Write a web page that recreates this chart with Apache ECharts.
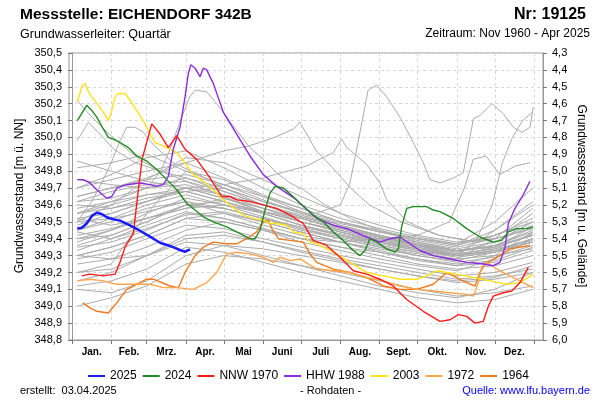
<!DOCTYPE html>
<html><head><meta charset="utf-8">
<script src="https://cdn.jsdelivr.net/npm/echarts@6/dist/echarts.min.js"></script>
<style>html,body{margin:0;padding:0;background:#fff}#c{width:600px;height:400px}</style>
</head><body><div id="c"></div>
<script>
// ---- Data (day of year, groundwater level m ü. NN) ----
const monthNames = ['Jan.','Feb.','Mrz.','Apr.','Mai','Juni','Juli','Aug.','Sept.','Okt.','Nov.','Dez.'];
const monthStarts = [0,31,59,90,120,151,181,212,243,273,304,334,365];
const monthMids = [15.5,45,74.5,105,135.5,166,196.5,227.5,258,288.5,319,349.5];
const leftTicks = {min:348.8, max:350.5, step:0.1};
const rightTicks = {min:4.3, max:6.0, step:0.1};

const y2025 = [[4.2,349.46],[7.7,349.465],[11.6,349.49],[15.6,349.534],[19.5,349.554],[23.5,349.546],[27.4,349.527],[32.6,349.515],[37.9,349.507],[45.8,349.479],[53.7,349.447],[61.6,349.412],[69.5,349.376],[77.4,349.357],[85.3,349.333],[89.3,349.323],[93.2,349.337]];
const y2024 = [[4.2,350.10],[11.6,350.19],[15.6,350.16],[19.5,350.12],[24.7,350.05],[28.7,350.00],[32.6,349.99],[37.9,349.97],[44.5,349.94],[51.1,349.89],[59,349.86],[66.9,349.81],[74.8,349.75],[82.7,349.69],[90.6,349.61],[103.7,349.53],[111.6,349.50],[122.2,349.47],[132.7,349.43],[140.6,349.40],[144.6,349.40],[148.5,349.45],[152.5,349.57],[156.4,349.67],[160.4,349.71],[166.9,349.70],[174.6,349.65],[180.1,349.61],[190.6,349.54],[198.5,349.50],[206.4,349.44],[214.3,349.39],[222.2,349.33],[227.5,349.30],[231.5,349.33],[235.4,349.40],[240.7,349.38],[248.6,349.34],[255.2,349.32],[257.8,349.34],[260.4,349.47],[264.4,349.58],[269.6,349.59],[280.2,349.59],[285.4,349.57],[290.7,349.56],[301.2,349.52],[311.8,349.46],[322.3,349.41],[332.8,349.38],[339.5,349.39],[344.7,349.44],[351.3,349.46],[359.2,349.46],[364.4,349.47]];
const nnw1970 = [[7.7,349.18],[14.2,349.19],[24.7,349.18],[34,349.19],[37.9,349.26],[41.9,349.35],[48.4,349.43],[52.4,349.69],[55.3,349.87],[63,350.08],[69.5,350.02],[76.1,349.94],[82.7,350.01],[89.3,349.93],[98.5,349.87],[109,349.76],[118.3,349.65],[124.8,349.65],[130.1,349.63],[140.6,349.62],[151.1,349.60],[161.7,349.58],[172.2,349.54],[182.7,349.49],[190.6,349.39],[201.2,349.36],[211.7,349.29],[222.2,349.21],[232.8,349.19],[243.3,349.16],[253.8,349.12],[264.4,349.04],[277.5,348.97],[290.7,348.91],[298.6,348.92],[305.2,348.95],[311.8,348.94],[318.4,348.90],[324.9,348.91],[328.9,349.00],[332.8,349.06],[340.7,349.08],[347.4,349.09],[354,349.14],[360.5,349.23]];
const hhw1988 = [[4.2,349.75],[8.9,349.75],[14.2,349.73],[19.5,349.69],[27.4,349.64],[31.4,349.65],[35.3,349.70],[43.2,349.72],[53.7,349.73],[61.6,349.72],[66.9,349.71],[72.1,349.72],[76.1,349.77],[80,349.93],[85.3,350.06],[89.3,350.24],[91.9,350.38],[93.8,350.43],[97.2,350.41],[101.1,350.36],[103.7,350.41],[106.4,350.40],[111.6,350.32],[119.5,350.15],[130.1,350.02],[140.6,349.89],[151.1,349.78],[161.7,349.71],[169.6,349.67],[177.5,349.63],[180.1,349.61],[193.3,349.52],[206.4,349.48],[217,349.46],[232.8,349.41],[243.3,349.38],[251.2,349.40],[259.1,349.41],[267,349.37],[274.9,349.33],[285.4,349.30],[298.6,349.28],[311.8,349.26],[324.9,349.25],[332.8,349.24],[338.1,349.26],[342.1,349.35],[344.7,349.49],[350,349.58],[356.5,349.66],[361.8,349.74]];
const y2003 = [[4.2,350.21],[7.7,350.30],[10.3,350.32],[12.9,350.27],[16.8,350.23],[20.8,350.19],[24.7,350.15],[28.7,350.10],[31.4,350.16],[34,350.24],[36.6,350.26],[41.9,350.26],[45.8,350.22],[51.1,350.16],[56.3,350.10],[61.6,350.02],[65.6,349.97],[74.8,349.94],[82.7,349.91],[89.3,349.85],[95.8,349.78],[103.7,349.74],[111.6,349.69],[116.9,349.65],[124.8,349.60],[135.3,349.54],[143.2,349.52],[151.1,349.51],[156.4,349.49],[161.7,349.49],[169.6,349.48],[174.8,349.44],[182.7,349.43],[188,349.38],[193.3,349.37],[206.4,349.32],[219.6,349.26],[232.8,349.20],[245.9,349.18],[259.1,349.16],[272.3,349.16],[280.2,349.18],[288.1,349.21],[296,349.20],[303.9,349.19],[317.1,349.17],[330.2,349.15],[343.4,349.13],[354,349.14],[364.4,349.19]];
const y1972 = [[4.2,349.15],[14.2,349.16],[24.7,349.15],[35.3,349.13],[51.1,349.13],[61.6,349.13],[72.1,349.11],[82.7,349.11],[95.8,349.10],[106.4,349.14],[114.3,349.20],[122.2,349.31],[130.1,349.32],[140.6,349.31],[151.1,349.29],[159,349.26],[164.3,349.29],[172.2,349.27],[180.1,349.28],[193.3,349.22],[206.4,349.21],[219.6,349.20],[232.8,349.17],[245.9,349.15],[259.1,349.12],[272.3,349.10],[285.4,349.09],[298.6,349.08],[311.8,349.07],[317.1,349.06],[321,349.14],[323.7,349.23],[327.6,349.26],[338.1,349.21],[348.7,349.17],[359.2,349.13],[364.4,349.11]];
const y1964 = [[8.5,349.02],[14.2,348.99],[19.5,348.97],[28.7,348.96],[35.3,349.02],[43.2,349.10],[51.1,349.13],[59,349.16],[64.2,349.16],[77.4,349.12],[84,349.11],[89.3,349.20],[97.2,349.30],[103.7,349.35],[111.6,349.38],[122.2,349.37],[130.1,349.37],[138,349.40],[145.9,349.44],[151.1,349.50],[155.1,349.51],[157.8,349.46],[163,349.40],[172.2,349.39],[182.7,349.38],[188,349.31],[193.3,349.26],[206.4,349.22],[219.6,349.20],[232.8,349.17],[245.9,349.12],[259.1,349.10],[272.3,349.10],[285.4,349.13],[296,349.20],[303.9,349.17],[311.8,349.14],[318.4,349.12],[322.3,349.20],[326.3,349.25],[335.5,349.29],[346,349.34],[361.8,349.36]];

// other years (grey), monthly readings
const grayDays = [4,31,59,90,120,151,181,212,243,273,304,334,364];
const grayLines = [
 [349.45,349.50,349.58,349.62,349.55,349.48,349.42,349.38,349.33,349.28,349.25,349.27,349.35],
 [349.55,349.60,349.66,349.70,349.64,349.56,349.50,349.45,349.40,349.36,349.33,349.35,349.42],
 [349.35,349.38,349.45,349.55,349.52,349.46,349.40,349.35,349.30,349.25,349.22,349.24,349.30],
 [349.62,349.68,349.72,349.74,349.68,349.60,349.54,349.47,349.42,349.38,349.34,349.38,349.48],
 [349.28,349.32,349.40,349.48,349.46,349.40,349.35,349.30,349.26,349.22,349.18,349.20,349.26],
 [349.48,349.55,349.62,349.68,349.70,349.62,349.55,349.48,349.42,349.37,349.32,349.36,349.45],
 [349.40,349.42,349.50,349.60,349.58,349.52,349.45,349.40,349.35,349.30,349.27,349.32,349.40],
 [349.75,349.72,349.70,349.72,349.66,349.58,349.52,349.46,349.41,349.36,349.32,349.38,349.50],
 [349.20,349.22,349.30,349.42,349.44,349.38,349.33,349.28,349.24,349.20,349.16,349.18,349.22],
 [349.58,349.62,349.66,349.68,349.62,349.55,349.48,349.43,349.38,349.34,349.30,349.45,349.62],
 [349.52,349.48,349.52,349.58,349.60,349.56,349.50,349.44,349.38,349.33,349.29,349.32,349.38],
 [349.10,349.08,349.15,349.30,349.36,349.34,349.30,349.26,349.22,349.18,349.14,349.16,349.20],
 [349.45,349.52,349.60,349.66,349.60,349.53,349.46,349.40,349.35,349.31,349.28,349.40,349.58],
 [349.65,349.70,349.75,349.78,349.72,349.63,349.55,349.49,349.44,349.39,349.35,349.40,349.46],
 [349.30,349.35,349.42,349.52,349.55,349.50,349.44,349.38,349.32,349.27,349.24,349.26,349.33],
 [349.38,349.45,349.55,349.64,349.60,349.55,349.48,349.42,349.37,349.33,349.30,349.33,349.40],
 [349.00,349.05,349.12,349.25,349.30,349.28,349.24,349.20,349.15,349.10,349.06,349.08,349.12],
 [349.50,349.52,349.56,349.62,349.58,349.52,349.47,349.42,349.36,349.32,349.28,349.30,349.34],
 [349.70,349.75,349.80,349.85,349.76,349.66,349.58,349.50,349.45,349.40,349.36,349.42,349.52],
 [349.33,349.40,349.48,349.56,349.52,349.46,349.40,349.35,349.32,349.28,349.24,349.30,349.44],
 [349.42,349.46,349.52,349.58,349.64,349.58,349.50,349.44,349.39,349.35,349.31,349.34,349.39],
 [349.60,349.58,349.62,349.70,349.66,349.60,349.53,349.47,349.41,349.37,349.33,349.36,349.44],
 [349.25,349.28,349.35,349.45,349.50,349.45,349.38,349.33,349.28,349.24,349.21,349.28,349.40],
 [349.86,349.80,349.74,349.70,349.64,349.58,349.52,349.46,349.41,349.37,349.33,349.36,349.42],
 [349.15,349.20,349.30,349.40,349.42,349.38,349.32,349.27,349.22,349.18,349.15,349.17,349.24],
 [349.55,349.62,349.70,349.76,349.70,349.62,349.56,349.50,349.44,349.40,349.37,349.50,349.70],
 [349.44,349.40,349.46,349.54,349.56,349.50,349.44,349.38,349.34,349.30,349.26,349.29,349.36],
 [349.36,349.42,349.50,349.60,349.62,349.55,349.48,349.42,349.38,349.34,349.30,349.35,349.47],
 [349.70,349.78,349.88,349.92,349.82,349.70,349.60,349.52,349.46,349.41,349.37,349.42,349.50],
 [349.50,349.60,349.75,349.88,349.85,349.75,349.65,349.55,349.48,349.42,349.38,349.40,349.46],
 [349.82,349.85,349.90,349.80,349.72,349.65,349.58,349.50,349.44,349.40,349.36,349.45,349.60],
 [349.20,349.25,349.55,349.80,349.75,349.65,349.56,349.48,349.42,349.36,349.30,349.33,349.38],
 [349.12,349.15,349.22,349.35,349.32,349.26,349.20,349.15,349.10,349.05,349.02,349.04,349.10],
 [349.30,349.28,349.30,349.38,349.36,349.30,349.24,349.18,349.12,349.08,349.05,349.10,349.20]
];
// grey years with distinctive peaks (day, level)
const grayPeakAug = [[4,349.55],[31,349.58],[59,349.64],[90,349.68],[120,349.62],[151,349.56],[181,349.52],[212,349.6],[219.6,349.73],[227.5,350.03],[233.9,350.28],[240.8,350.31],[248.6,350.24],[259.1,350.12],[269.6,349.97],[277.5,349.85],[282.8,349.75],[290.7,349.73],[301.2,349.76],[309.1,349.79],[317.1,350.11],[322.3,350.13],[331.8,350.20],[340.7,350.14],[348.7,350.06],[355.6,350.03],[361.8,350.06],[364.4,350.18]];
const grayPeakApr = [[4,349.62],[31,349.64],[59,349.7],[70,349.8],[77.4,349.93],[86.7,350.12],[93,350.24],[97.2,350.28],[106.4,350.27],[114.3,350.2],[122.2,350.12],[130.1,350.04],[140.6,349.94],[151.1,349.87],[161.7,349.79],[172.2,349.73],[182.7,349.69],[200,349.6],[220,349.52],[243,349.45],[273,349.38],[304,349.33],[334,349.35],[364,349.42]];
const grayPeakFeb = [[4,349.5],[15.6,349.62],[24.7,349.75],[31,349.85],[37.9,349.98],[43.2,350.06],[50,350.06],[56.3,350.03],[65,349.95],[80,349.85],[100,349.78],[120,349.7],[151,349.6],[181,349.52],[212,349.45],[243,349.4],[273,349.35],[304,349.3],[334,349.33],[364,349.4]];
const grayHighJan = [[4,350.22],[12,350.15],[25,350.05],[40,349.95],[55,349.86],[70,349.8],[90,349.74],[110,349.68],[130,349.62],[151,349.56],[181,349.5],[212,349.44],[243,349.39],[273,349.34],[304,349.3],[334,349.32],[364,349.38]];
const grayHighJan2 = [[4,349.98],[13,350.09],[22,350.02],[33,349.93],[50,349.85],[70,349.8],[90,349.76],[120,349.68],[151,349.6],[181,349.53],[212,349.47],[243,349.41],[273,349.36],[304,349.31],[334,349.34],[364,349.43]];
const grayRiseDec = [[4,349.4],[31,349.45],[59,349.52],[90,349.6],[120,349.58],[151,349.52],[181,349.46],[212,349.41],[243,349.36],[273,349.32],[304,349.3],[320,349.4],[332,349.6],[340,349.85],[348,350.0],[356,350.1],[364,350.15]];
const grayHumpNov = [[4,349.3],[31,349.35],[59,349.42],[90,349.52],[120,349.5],[151,349.45],[181,349.4],[212,349.38],[243,349.4],[273,349.42],[298,349.5],[310,349.7],[317,349.87],[327,349.89],[338,349.78],[350,349.83],[362,349.85]];
const grayHighJul = [[4,349.65],[31,349.7],[59,349.76],[90,349.85],[120,349.92],[140,349.95],[160,350.0],[175,350.05],[180,350.09],[193,349.92],[206,349.82],[220,349.7],[235,349.6],[260,349.5],[290,349.42],[320,349.38],[345,349.42],[364,349.5]];
const grayHumpAug = [[4,349.52],[31,349.55],[59,349.62],[90,349.7],[120,349.72],[151,349.76],[170,349.8],[185,349.83],[201,349.89],[206.4,349.91],[213,349.99],[217,349.94],[222,349.91],[232.8,349.84],[243.3,349.73],[248.6,349.63],[265,349.5],[290,349.42],[320,349.38],[345,349.45],[364,349.55]];

// ---- Build chart ----
const fmt = v => (Math.round(v*10)/10).toFixed(1).replace('.', ',');
const series = [];
const grayStyle = {color:'#ababab', width:1};
grayLines.forEach(vals => series.push({type:'line', data: vals.map((v,i)=>[grayDays[i], v]), showSymbol:false, symbol:'none', silent:true, lineStyle:grayStyle, z:1}));
[grayPeakAug, grayPeakApr, grayPeakFeb, grayHighJan, grayHighJan2, grayRiseDec, grayHumpNov, grayHighJul, grayHumpAug]
  .forEach(d => series.push({type:'line', data:d, showSymbol:false, symbol:'none', silent:true, lineStyle:grayStyle, z:1}));

const highlights = [
  {name:'1964', data:y1964, color:'#f07a1e', w:1.4},
  {name:'1972', data:y1972, color:'#ffa54a', w:1.4},
  {name:'2003', data:y2003, color:'#ffe21a', w:1.4},
  {name:'HHW 1988', data:hhw1988, color:'#8a2be2', w:1.4},
  {name:'NNW 1970', data:nnw1970, color:'#ff1a1a', w:1.4},
  {name:'2024', data:y2024, color:'#228b22', w:1.4},
  {name:'2025', data:y2025, color:'#1a1aff', w:2.5}
];
highlights.forEach((h,i) => series.push({name:h.name, type:'line', data:h.data, showSymbol:false, symbol:'none', silent:true, color:h.color, lineStyle:{color:h.color, width:h.w}, z:5+i}));

const chart = echarts.init(document.getElementById('c'), null, {renderer:'canvas'});
const font = 'Liberation Sans, Arial, sans-serif';
chart.setOption({
  animation:false,
  textStyle:{fontFamily:font},
  grid:{left:69, right:57, top:53, bottom:60, show:true, borderColor:'#999', borderWidth:1, backgroundColor:'transparent'},
  xAxis:{type:'value', min:-2.4, max:372.1,
    axisLine:{show:true, lineStyle:{color:'#999'}},
    axisTick:{show:true, customValues:monthStarts, length:4, lineStyle:{color:'#777'}},
    axisLabel:{customValues:monthMids, formatter:v=>monthNames[monthMids.indexOf(v)], fontSize:10, fontWeight:'bold', color:'#000', margin:7, fontFamily:font},
    splitLine:{show:true, lineStyle:{color:'#d8d8d8', type:[3,3]}}},
  yAxis:[
    {type:'value', min:leftTicks.min, max:leftTicks.max, interval:leftTicks.step, position:'left',
     axisLine:{show:true, lineStyle:{color:'#999'}}, axisTick:{show:true, length:4, lineStyle:{color:'#777'}},
     axisLabel:{formatter:fmt, fontSize:11, color:'#000', margin:7, fontFamily:font},
     splitLine:{show:true, lineStyle:{color:'#d8d8d8', type:[3,3]}}},
    {type:'value', min:rightTicks.min, max:rightTicks.max, interval:rightTicks.step, inverse:true, position:'right',
     axisLine:{show:true, lineStyle:{color:'#999'}}, axisTick:{show:true, length:4, lineStyle:{color:'#777'}},
     axisLabel:{formatter:fmt, fontSize:11, color:'#000', margin:9, fontFamily:font},
     splitLine:{show:false}}
  ],
  legend:{left:83, top:365, icon:'rect', itemWidth:17, itemHeight:2, itemGap:6,
    textStyle:{fontSize:12, color:'#000', fontFamily:font},
    data:['2025','2024','NNW 1970','HHW 1988','2003','1972','1964']},
  graphic:[
    {type:'text', left:20, top:7, style:{text:'Messstelle: EICHENDORF 342B', font:'bold 15.5px '+font, fill:'#000'}},
    {type:'text', right:14, top:7, style:{text:'Nr: 19125', font:'bold 16px '+font, fill:'#000'}},
    {type:'text', left:20, top:28, style:{text:'Grundwasserleiter: Quartär', font:'12.5px '+font, fill:'#000'}},
    {type:'text', right:10, top:28, style:{text:'Zeitraum: Nov 1960 - Apr 2025', font:'12px '+font, fill:'#000'}},
    {type:'text', x:20, y:196, rotation:Math.PI/2, style:{text:'Grundwasserstand [m ü. NN]', font:'12px '+font, fill:'#000', align:'center', verticalAlign:'middle'}},
    {type:'text', x:581, y:196, rotation:-Math.PI/2, style:{text:'Grundwasserstand [m u. Gelände]', font:'12px '+font, fill:'#000', align:'center', verticalAlign:'middle'}},
    {type:'text', left:20, top:385, style:{text:'erstellt:  03.04.2025', font:'11px '+font, fill:'#000'}},
    {type:'text', x:300, top:385, style:{text:'- Rohdaten -', font:'11px '+font, fill:'#000', align:'center'}},
    {type:'text', right:10, top:385, style:{text:'Quelle: www.lfu.bayern.de', font:'11px '+font, fill:'#0000ff'}}
  ],
  series:series
});
</script></body></html>
